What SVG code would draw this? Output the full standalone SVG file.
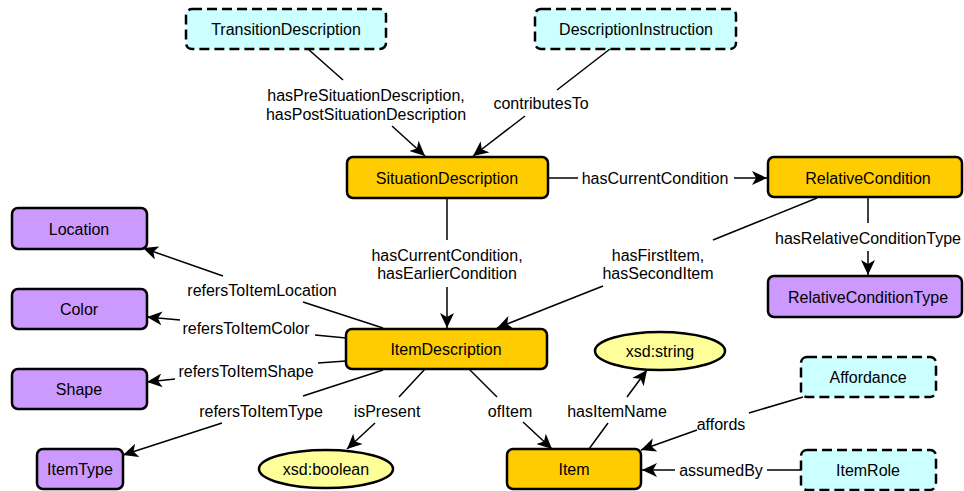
<svg xmlns="http://www.w3.org/2000/svg" width="964" height="491" viewBox="0 0 964 491">
<defs>
<marker id="arr" markerUnits="userSpaceOnUse" markerWidth="16" markerHeight="14" viewBox="0 0 16 14" refX="15" refY="7" orient="auto">
<path d="M0,0 L15,7 L0,14 L4,7 z" fill="#000"/>
</marker>
<style>
.n rect, .n ellipse { stroke:#000; stroke-width:2.5; }
.core { fill:#FFCC00; }
.ext { fill:#CCFFFF; stroke-dasharray:10 5; }
.val { fill:#CC99FF; }
.lit { fill:#FFFF99; }
text { font-family:"Liberation Sans", Arial, sans-serif; font-size:16px; fill:#000; text-anchor:middle; }
.c line { stroke:#000; stroke-width:1.5; fill:none; }
.c .a { marker-end:url(#arr); }
</style>
</defs>
<rect width="964" height="491" fill="#fff"/>

<g class="c" id="connectors">
<!-- TransitionDescription -> SituationDescription -->
<line x1="308" y1="49" x2="343" y2="80"/>
<line class="a" x1="392" y1="126" x2="425" y2="156"/>
<text x="366" y="101">hasPreSituationDescription,</text>
<text x="366" y="120">hasPostSituationDescription</text>
<!-- DescriptionInstruction -> SituationDescription -->
<line x1="610" y1="49" x2="557" y2="90"/>
<line class="a" x1="525" y1="116" x2="473" y2="156"/>
<text x="541" y="109">contributesTo</text>
<!-- SituationDescription -> RelativeCondition -->
<line x1="548" y1="178" x2="578" y2="178"/>
<line class="a" x1="734" y1="178" x2="767" y2="178"/>
<text x="655" y="184">hasCurrentCondition</text>
<!-- SituationDescription -> ItemDescription -->
<line x1="447" y1="198" x2="447" y2="240"/>
<line class="a" x1="447" y1="287" x2="447" y2="328"/>
<text x="447" y="261">hasCurrentCondition,</text>
<text x="447" y="279">hasEarlierCondition</text>
<!-- RelativeCondition -> ItemDescription -->
<line x1="817" y1="198" x2="713" y2="240"/>
<line class="a" x1="603" y1="286" x2="497" y2="328"/>
<text x="658" y="261">hasFirstItem,</text>
<text x="658" y="279">hasSecondItem</text>
<!-- RelativeCondition -> RelativeConditionType -->
<line x1="868" y1="197" x2="868" y2="223"/>
<line class="a" x1="868" y1="251" x2="868" y2="275"/>
<text x="868" y="244">hasRelativeConditionType</text>
<!-- ItemDescription -> Location -->
<line x1="383" y1="328" x2="303" y2="302"/>
<line class="a" x1="223" y1="276" x2="143" y2="248"/>
<text x="262" y="296">refersToItemLocation</text>
<!-- ItemDescription -> Color -->
<line x1="346" y1="338" x2="315" y2="335"/>
<line class="a" x1="180" y1="320" x2="147" y2="317"/>
<text x="246" y="334">refersToItemColor</text>
<!-- ItemDescription -> Shape -->
<line x1="346" y1="361" x2="318" y2="363"/>
<line class="a" x1="175" y1="379" x2="147" y2="382"/>
<text x="246" y="377">refersToItemShape</text>
<!-- ItemDescription -> ItemType -->
<line x1="383" y1="370" x2="303" y2="396"/>
<line class="a" x1="222" y1="423" x2="123" y2="455"/>
<text x="261" y="417">refersToItemType</text>
<!-- ItemDescription -> xsd:boolean -->
<line x1="425" y1="369" x2="399" y2="397"/>
<line class="a" x1="375" y1="423" x2="347" y2="449"/>
<text x="387" y="417">isPresent</text>
<!-- ItemDescription -> Item -->
<line x1="469" y1="369" x2="497" y2="397"/>
<line class="a" x1="523" y1="422" x2="552" y2="449"/>
<text x="510" y="417">ofItem</text>
<!-- Item -> xsd:string -->
<line x1="589" y1="449" x2="608" y2="423"/>
<line class="a" x1="627" y1="397" x2="647" y2="370"/>
<text x="617" y="417">hasItemName</text>
<!-- Affordance -> Item -->
<line x1="803" y1="397" x2="749" y2="413"/>
<line class="a" x1="697" y1="430" x2="641" y2="450"/>
<text x="721" y="430">affords</text>
<!-- ItemRole -> Item -->
<line x1="801" y1="470" x2="767" y2="470"/>
<line class="a" x1="675" y1="470" x2="642" y2="470"/>
<text x="721" y="476">assumedBy</text>
</g>

<g class="n" id="TransitionDescription"><rect class="ext" x="186" y="9" width="200" height="40" rx="6"/><text x="286" y="35">TransitionDescription</text></g>
<g class="n" id="DescriptionInstruction"><rect class="ext" x="535" y="9" width="201" height="40" rx="6"/><text x="636" y="35">DescriptionInstruction</text></g>
<g class="n" id="SituationDescription"><rect class="core" x="347" y="157" width="201" height="41" rx="6"/><text x="447" y="184">SituationDescription</text></g>
<g class="n" id="RelativeCondition"><rect class="core" x="768" y="157" width="194" height="40" rx="6"/><text x="868" y="184">RelativeCondition</text></g>
<g class="n" id="RelativeConditionType"><rect class="val" x="768" y="276" width="194" height="41" rx="6"/><text x="868" y="303">RelativeConditionType</text></g>
<g class="n" id="Location"><rect class="val" x="12" y="208" width="135" height="41" rx="6"/><text x="79" y="235">Location</text></g>
<g class="n" id="Color"><rect class="val" x="12" y="289" width="135" height="40" rx="6"/><text x="79" y="315">Color</text></g>
<g class="n" id="Shape"><rect class="val" x="12" y="369" width="135" height="40" rx="6"/><text x="79" y="395">Shape</text></g>
<g class="n" id="ItemType"><rect class="val" x="37" y="449" width="86" height="40" rx="6"/><text x="80" y="475">ItemType</text></g>
<g class="n" id="ItemDescription"><rect class="core" x="346" y="329" width="201" height="40" rx="6"/><text x="446" y="355">ItemDescription</text></g>
<g class="n" id="xsd_string"><ellipse class="lit" cx="660" cy="351" rx="65" ry="19"/><text x="660" y="357">xsd:string</text></g>
<g class="n" id="xsd_boolean"><ellipse class="lit" cx="326" cy="469" rx="67" ry="19"/><text x="326" y="475">xsd:boolean</text></g>
<g class="n" id="Item"><rect class="core" x="507" y="449" width="134" height="40" rx="6"/><text x="574" y="475">Item</text></g>
<g class="n" id="Affordance"><rect class="ext" x="801" y="357" width="135" height="40" rx="6"/><text x="868" y="383">Affordance</text></g>
<g class="n" id="ItemRole"><rect class="ext" x="801" y="450" width="135" height="40" rx="6"/><text x="868" y="476">ItemRole</text></g>
</svg>
